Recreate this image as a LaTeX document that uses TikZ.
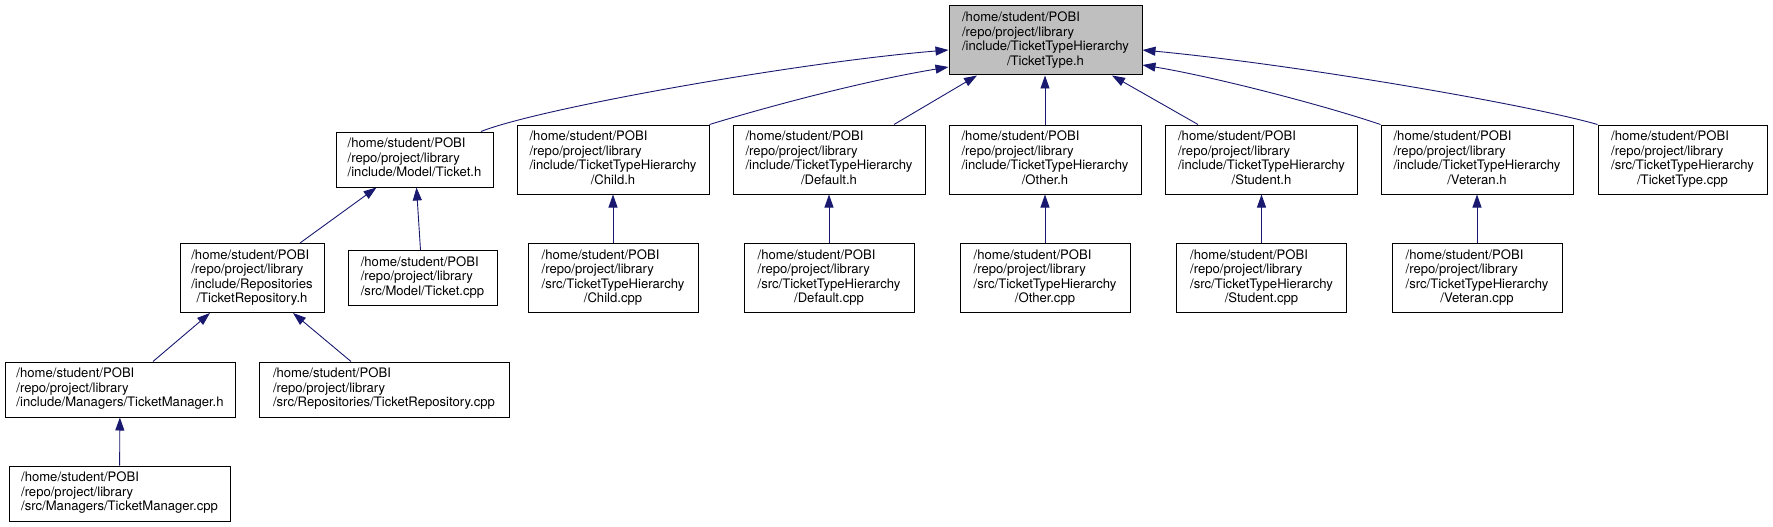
\documentclass[tikz,border=0pt]{standalone}
\usepackage{fontspec}
\setmainfont{TeX Gyre Heros}
\usepackage{tikz}
\usetikzlibrary{arrows.meta}
\definecolor{dxblue}{HTML}{191970}
\definecolor{dxgray}{HTML}{BFBFBF}
\newcommand{\fpath}[1]{\begin{tabular}{@{}l@{}}#1\end{tabular}}
\newcommand{\lastln}[1]{\multicolumn{1}{@{}c@{}}{#1}}
\newcommand{\repo}{/home/student/POBI\\/repo/project/library}

\begin{document}
\begin{tikzpicture}[x=1pt, y=-1pt,
  filebox/.style={draw=black, line width=1pt, fill=white, inner sep=0pt,
    minimum height=55pt, font=\fontsize{13.1}{14.5}\selectfont},
  tall/.style={minimum height=69pt},
  incl/.style={draw=dxblue, line width=0.9pt, -{Triangle[length=13pt,width=9pt]}}]
  \useasboundingbox (0,0) rectangle (1773,527);
  % top
  \node[filebox, tall, fill=dxgray, minimum width=193pt] (tt) at (1045.5,40.5)
    {\fpath{\repo\\/include/TicketTypeHierarchy\\\lastln{/TicketType.h}}};
  % headers
  \node[filebox, minimum width=157pt] (ticketh) at (414.5,159.5)
    {\fpath{\repo\\/include/Model/Ticket.h}};
  \node[filebox, tall, minimum width=192pt] (childh) at (613,159.5)
    {\fpath{\repo\\/include/TicketTypeHierarchy\\\lastln{/Child.h}}};
  \node[filebox, tall, minimum width=192pt] (defaulth) at (829,159.5)
    {\fpath{\repo\\/include/TicketTypeHierarchy\\\lastln{/Default.h}}};
  \node[filebox, tall, minimum width=192pt] (otherh) at (1045,159.5)
    {\fpath{\repo\\/include/TicketTypeHierarchy\\\lastln{/Other.h}}};
  \node[filebox, tall, minimum width=192pt] (studenth) at (1261.5,159.5)
    {\fpath{\repo\\/include/TicketTypeHierarchy\\\lastln{/Student.h}}};
  \node[filebox, tall, minimum width=192pt] (veteranh) at (1477,159.5)
    {\fpath{\repo\\/include/TicketTypeHierarchy\\\lastln{/Veteran.h}}};
  \node[filebox, tall, minimum width=169pt] (ttcpp) at (1682.5,159.5)
    {\fpath{\repo\\/src/TicketTypeHierarchy\\\lastln{/TicketType.cpp}}};
  % sources
  \node[filebox, tall, minimum width=144pt] (repoh) at (252,278)
    {\fpath{\repo\\/include/Repositories\\\lastln{/TicketRepository.h}}};
  \node[filebox, minimum width=149pt] (ticketcpp) at (422.5,278)
    {\fpath{\repo\\/src/Model/Ticket.cpp}};
  \node[filebox, tall, minimum width=170pt] (childcpp) at (613,278)
    {\fpath{\repo\\/src/TicketTypeHierarchy\\\lastln{/Child.cpp}}};
  \node[filebox, tall, minimum width=170pt] (defaultcpp) at (829,278)
    {\fpath{\repo\\/src/TicketTypeHierarchy\\\lastln{/Default.cpp}}};
  \node[filebox, tall, minimum width=170pt] (othercpp) at (1045,278)
    {\fpath{\repo\\/src/TicketTypeHierarchy\\\lastln{/Other.cpp}}};
  \node[filebox, tall, minimum width=170pt] (studentcpp) at (1261.5,278)
    {\fpath{\repo\\/src/TicketTypeHierarchy\\\lastln{/Student.cpp}}};
  \node[filebox, tall, minimum width=170pt] (veterancpp) at (1477,278)
    {\fpath{\repo\\/src/TicketTypeHierarchy\\\lastln{/Veteran.cpp}}};
  % managers
  \node[filebox, minimum width=230pt] (managerh) at (120,389.5)
    {\fpath{\repo\\/include/Managers/TicketManager.h}};
  \node[filebox, minimum width=250pt] (repocpp) at (384,389.5)
    {\fpath{\repo\\/src/Repositories/TicketRepository.cpp}};
  \node[filebox, minimum width=221pt] (managercpp) at (119.5,493.5)
    {\fpath{\repo\\/src/Managers/TicketManager.cpp}};

  % include arrows
  \draw[incl] ([xshift=66.5pt]ticketh.north) .. controls (540,108) and (800,62) .. ([yshift=-9.5pt]tt.west);
  \draw[incl] (childh.north east) .. controls (780,103) and (870,80) .. ([yshift=-26.5pt]tt.west);
  \draw[incl] ([xshift=65pt]defaulth.north) -- ([xshift=-68.5pt]tt.south);
  \draw[incl] (otherh.north) -- (otherh.north |- tt.south);
  \draw[incl] ([xshift=-63.5pt]studenth.north) -- ([xshift=66.5pt]tt.south);
  \draw[incl] (veteranh.north west) .. controls (1320,104) and (1210,76) .. ([yshift=-24.5pt]tt.east);
  \draw[incl] (ttcpp.north west) .. controls (1530,105) and (1300,65) .. ([yshift=-9.5pt]tt.east);
  \draw[incl] ([xshift=48pt]repoh.north) -- ([xshift=-38pt]ticketh.south);
  \draw[incl] ([xshift=-2pt]ticketcpp.north) -- ([xshift=2pt]ticketh.south);
  \draw[incl] (childcpp) -- (childh);
  \draw[incl] (defaultcpp) -- (defaulth);
  \draw[incl] (othercpp) -- (otherh);
  \draw[incl] (studentcpp) -- (studenth);
  \draw[incl] (veterancpp) -- (veteranh);
  \draw[incl] ([xshift=33pt]managerh.north) -- ([xshift=-42pt]repoh.south);
  \draw[incl] ([xshift=-33pt]repocpp.north) -- ([xshift=41pt]repoh.south);
  \draw[incl] (managercpp) -- (managerh);
\end{tikzpicture}
\end{document}
